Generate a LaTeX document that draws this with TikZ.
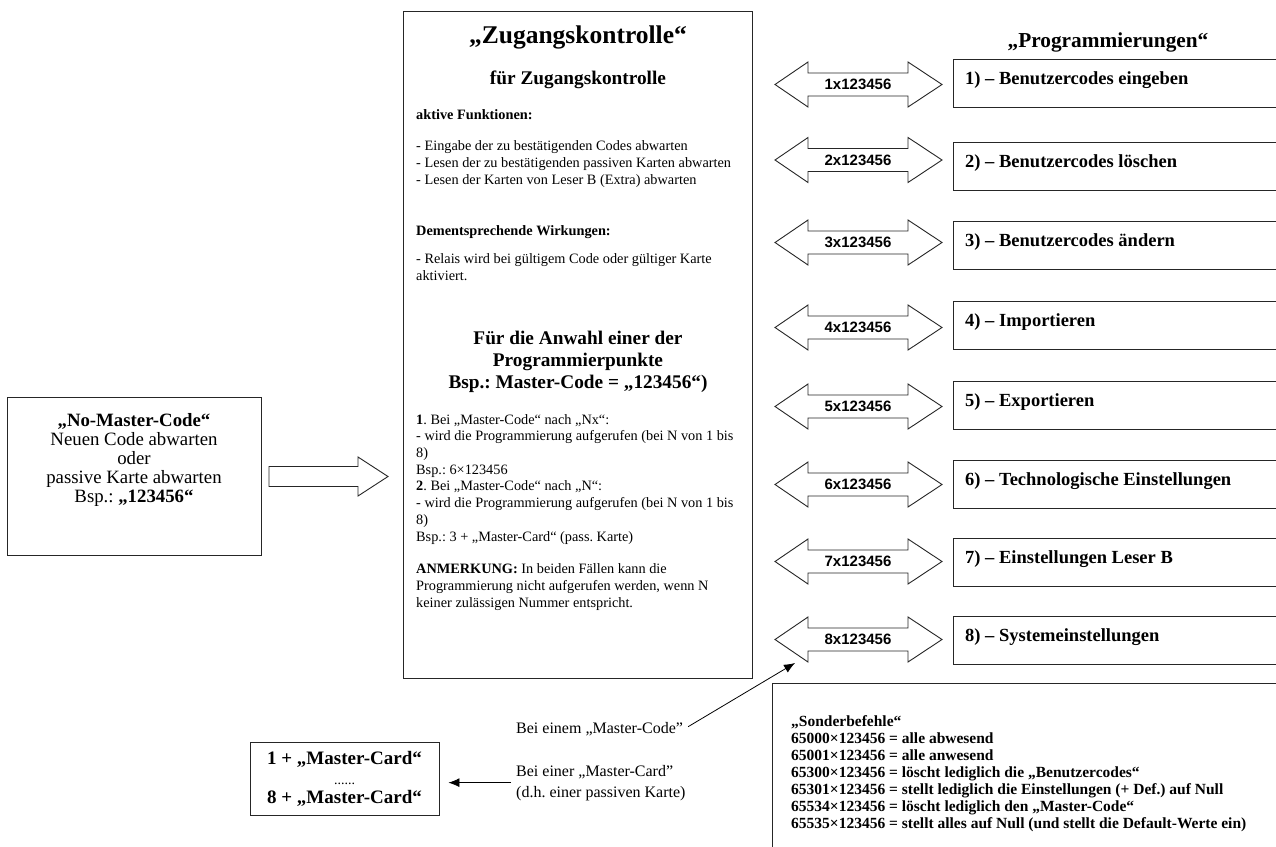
\documentclass[tikz,border=0pt]{standalone}
\usepackage{fontspec}
\setmainfont{Liberation Serif}
\newfontfamily\arialfont{Liberation Sans}
\usetikzlibrary{arrows.meta}
\newcommand\fs[2]{\fontsize{#1}{#2}\selectfont}
\newcommand\sq{\char34\relax}
\begin{document}
\frenchspacing
\begin{tikzpicture}[x=1pt,y=-1pt,
  box/.style={draw=black!85, line width=0.9pt, inner sep=0pt},
  blk/.style={draw=black!85, line width=0.9pt, fill=white, line join=miter},
  con/.style={draw=black, line width=0.8pt, -{Latex[length=11pt,width=9pt]}},
  txt/.style={inner sep=0pt, align=left, anchor=base west, font=\fs{14.3}{16.7}},
  btxt/.style={txt, font=\bfseries\fs{14.3}{16.7}},
  ntxt/.style={txt, font=\fs{16}{21}},
  ctitle/.style={inner sep=0pt, anchor=base, align=center}
]
\useasboundingbox (0,0) rectangle (1276,846);
\clip (0,0) rectangle (1276,846);
\fill[white] (0,0) rectangle (1276,846);

% central box
\node[box, anchor=north west, minimum width=349pt, minimum height=667pt] (zk) at (403,11) {};
\node[ctitle, font=\bfseries\fs{25.5}{28}] (zkt) at (578,43) {„Zugangskontrolle“};
\node[ctitle, font=\bfseries\fs{19.3}{21.8}] (zks) at (578,84) {für Zugangskontrolle};
\node[btxt] (af) at (416,119) {aktive Funktionen:};
\node[txt] (afl) at (416,184) {- Eingabe der zu bestätigenden Codes abwarten\\- Lesen der zu bestätigenden passiven Karten abwarten\\- Lesen der Karten von Leser B (Extra) abwarten};
\node[btxt] (dw) at (416,235) {Dementsprechende Wirkungen:};
\node[txt] (dwl) at (416,280) {- Relais wird bei gültigem Code oder gültiger Karte\\aktiviert.};
\node[ctitle, font=\bfseries\fs{19.3}{21.7}] (fa) at (578,388) {Für die Anwahl einer der\\Programmierpunkte\\Bsp.: Master-Code = „123456“)};
\node[txt] (p1) at (416,541) {\textbf{1}. Bei „Master-Code“ nach „Nx“:\\- wird die Programmierung aufgerufen (bei N von 1 bis\\8)\\Bsp.: 6×123456\\\textbf{2}. Bei „Master-Code“ nach „N“:\\- wird die Programmierung aufgerufen (bei N von 1 bis\\8)\\Bsp.: 3 + „Master-Card“ (pass. Karte)};
\node[txt] (an) at (416,607) {\textbf{ANMERKUNG:} In beiden Fällen kann die\\Programmierung nicht aufgerufen werden, wenn N\\keiner zulässigen Nummer entspricht.};

% left box
\node[box, anchor=north west, minimum width=254pt, minimum height=158pt] (nm) at (7,397) {};
\node[ctitle, font=\fs{18.8}{19}] (nmt) at (134,502) {\textbf{„No-Master-Code“}\\Neuen Code abwarten\\oder\\passive Karte abwarten\\Bsp.: \textbf{„123456“}};
\draw[blk] (269,466.5) -- (358,466.5) -- (358,457) -- (388,476.5) -- (358,496) -- (358,486.5) -- (269,486.5) -- cycle;

% programmierungen
\node[ctitle, font=\bfseries\fs{21.3}{24}] (pg) at (1108,47) {„Programmierungen“};
\foreach \i/\yc/\tp/\lab in {1/84.5/59/Benutzercodes eingeben, 2/160/142/Benutzercodes löschen, 3/242.5/221/Benutzercodes ändern, 4/327.5/301/Importieren, 5/406.5/381/Exportieren, 6/484.5/460/Technologische Einstellungen, 7/561.5/538/Einstellungen Leser B, 8/639.5/616/Systemeinstellungen} {
  \draw[blk] (775,\yc) -- (808,\yc-22.5) -- (808,\yc-11.5) -- (908,\yc-11.5) -- (908,\yc-22.5) -- (942,\yc) -- (908,\yc+22.5) -- (908,\yc+11.5) -- (808,\yc+11.5) -- (808,\yc+22.5) -- cycle;
  \node[inner sep=0pt, font=\arialfont\bfseries\fs{15}{16}] (a\i) at (858,\yc) {\i x123456};
  \node[box, anchor=north west, minimum width=400pt, minimum height=48pt] (b\i) at (953,\tp) {};
  \node[inner sep=0pt, anchor=base west, font=\bfseries\fs{18.5}{21}] (t\i) at (965,\tp+25) {\i) – \lab};
}

% sonderbefehle
\node[box, anchor=north west, minimum width=600pt, minimum height=300pt] (sb) at (772,683) {};
\node[txt, font=\bfseries\fs{15.5}{17}] (sbt) at (791,828) {„Sonderbefehle“\\65000×123456 = alle abwesend\\65001×123456 = alle anwesend\\65300×123456 = löscht lediglich die „Benutzercodes“\\65301×123456 = stellt lediglich die Einstellungen (+ Def.) auf Null\\65534×123456 = löscht lediglich den „Master-Code“\\65535×123456 = stellt alles auf Null (und stellt die Default-Werte ein)};

% bottom left
\node[box, minimum width=189pt, minimum height=73pt, align=center, font=\bfseries\fs{19}{19.5}] (mc) at (344.5,779) {1 + „Master-Card“\\{\mdseries\fs{14}{19.5}......}\\8 + „Master-Card“};
\node[ntxt] (bm) at (516,733) {Bei einem „Master-Code\sq};
\node[ntxt] (bc) at (516,797) {Bei einer „Master-Card\sq\\(d.h. einer passiven Karte)};
\coordinate (tip8) at (795,663);
\draw[con] ([xshift=5pt,yshift=2pt]bm.east) -- (tip8);
\draw[con, shorten <=5pt, shorten >=9pt] (bc.west) -- (mc.east |- bc.west);
\end{tikzpicture}
\end{document}
